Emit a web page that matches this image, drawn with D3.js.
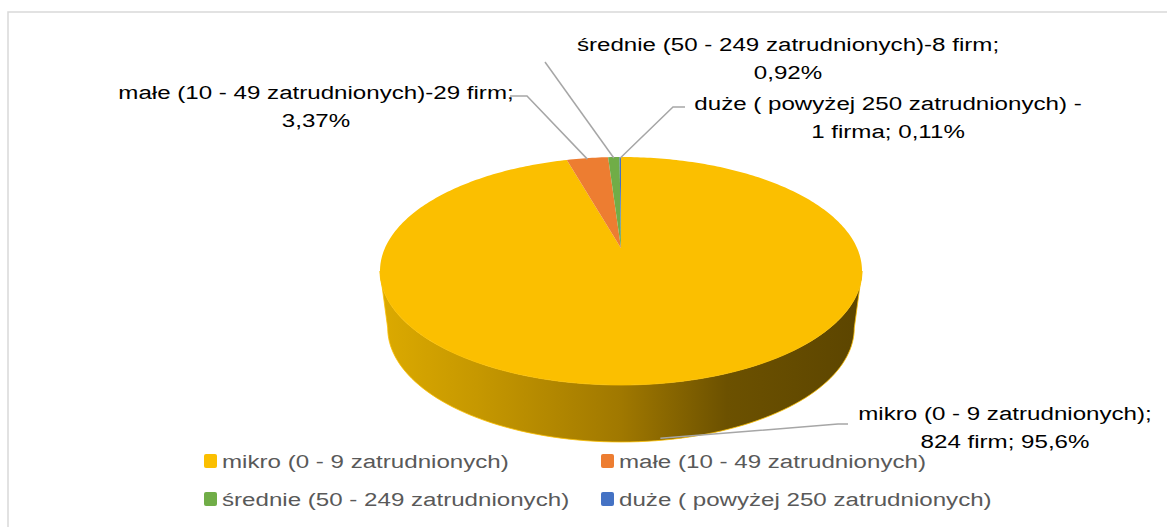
<!DOCTYPE html>
<html>
<head>
<meta charset="utf-8">
<script src="https://cdn.jsdelivr.net/npm/d3@7"></script>
<style>
  body { margin: 0; background: #fff; }
  svg { display: block; }
</style>
</head>
<body>
<svg width="1167" height="527"></svg>
<script>
let svg = d3.select("svg"),
    width = 1167,
    height = 527;

// data
let categories = ["mikro (0 - 9 zatrudnionych)", "małe (10 - 49 zatrudnionych)",
                  "średnie (50 - 249 zatrudnionych)", "duże ( powyżej 250 zatrudnionych)"];
let firms = [824, 29, 8, 1];
let labelText = [
  ["mikro (0 - 9 zatrudnionych);", "824 firm; 95,6%"],
  ["małe (10 - 49 zatrudnionych)-29 firm;", "3,37%"],
  ["średnie (50 - 249 zatrudnionych)-8 firm;", "0,92%"],
  ["duże ( powyżej 250 zatrudnionych) -", "1 firma; 0,11%"]
];
let colors = ["#FBBF00", "#ED7D31", "#70AD47", "#4472C4"];

// layout of the 3d pie (perspective projected circle)
let cx = 621, cy = 271, rx = 241, ry = 114, depth = 57, bottomScale = 0.968;
let persp = -0.2;                       // far side compressed
let A = rx * Math.sqrt(1 - persp * persp), D = ry * persp;
let stretch = 1.27, fontSize = 19;

// label boxes (center x, first baseline) and leader elbows
let labelPos = [
  {x: 1005, y: 420, elbow: [[838, 424], [848, 424]], bottom: true},
  {x: 316, y: 99, elbow: [[527, 96], [510, 96]]},
  {x: 788, y: 51, elbow: [[545, 62]]},
  {x: 888, y: 110, elbow: [[673, 107], [685, 107]]}
];

// angle clockwise from the back (top) of the pie -> screen point
function rim(a, dy = 0, s = 1) {
  let u = Math.sin(a), v = -Math.cos(a), w = 1 + persp * v;
  return [cx + s * A * u / w, cy + dy + (ry * v + D) / w];
}
let apex = [cx, cy + D];

let pie = d3.pie().sort(null).startAngle(0).endAngle(2 * Math.PI);
let arcs = pie(firms);

// border
svg.append("rect")
  .attr("x", 8).attr("y", 12)
  .attr("width", width).attr("height", height)
  .attr("fill", "none")
  .attr("stroke", "#d9d9d9")
  .attr("stroke-width", 1.5);

let defs = svg.append("defs");
let grad = defs.append("linearGradient")
  .attr("id", "side")
  .attr("gradientUnits", "userSpaceOnUse")
  .attr("x1", cx - rx).attr("x2", cx + rx)
  .attr("y1", 0).attr("y2", 0);
[[0, "#dcaa00"], [0.2, "#c69800"], [0.5, "#a07800"], [0.72, "#6c5100"], [1, "#5c4500"]]
  .forEach(s => grad.append("stop").attr("offset", s[0]).attr("stop-color", s[1]));

// side walls: only the part in front of the silhouette points
let sideFrom = Math.acos(persp), sideTo = 2 * Math.PI - Math.acos(persp);
function sidePath(d) {
  let a0 = Math.max(d.startAngle, sideFrom),
      a1 = Math.min(d.endAngle, sideTo);
  if (a1 <= a0) return null;
  let n = 90, pts = [];
  for (let i = 0; i <= n; i++) pts.push(rim(a0 + (a1 - a0) * i / n));
  for (let i = n; i >= 0; i--) pts.push(rim(a0 + (a1 - a0) * i / n, depth, bottomScale));
  return d3.line()(pts) + "Z";
}

svg.append("g").selectAll("path")
  .data(arcs.filter(d => sidePath(d)))
  .join("path")
    .attr("d", sidePath)
    .attr("fill", "url(#side)")
    .attr("stroke", "#fbbf00")
    .attr("stroke-width", 0.8);

// top faces
function topPath(d) {
  let n = Math.max(4, Math.ceil((d.endAngle - d.startAngle) * 60)), pts = [apex];
  for (let i = 0; i <= n; i++) pts.push(rim(d.startAngle + (d.endAngle - d.startAngle) * i / n));
  return d3.line()(pts) + "Z";
}

svg.append("g").selectAll("path")
  .data(arcs)
  .join("path")
    .attr("d", topPath)
    .attr("fill", (d, i) => colors[i]);

// leader lines
svg.append("g").selectAll("path")
  .data(arcs)
  .join("path")
    .attr("d", (d, i) => {
      let mid = (d.startAngle + d.endAngle) / 2;
      let p = labelPos[i].bottom ? rim(mid, depth - 2, bottomScale) : rim(mid, 1);
      return d3.line()([p].concat(labelPos[i].elbow));
    })
    .attr("fill", "none")
    .attr("stroke", "#a6a6a6")
    .attr("stroke-width", 1.5);

// data labels
let lab = svg.append("g").selectAll("text")
  .data(arcs)
  .join("text")
    .attr("transform", (d, i) => `translate(${labelPos[i].x},${labelPos[i].y}) scale(${stretch},1)`)
    .attr("text-anchor", "middle")
    .attr("font-family", "'Liberation Sans', Arial, sans-serif")
    .attr("font-size", fontSize)
    .attr("fill", "#000");
lab.selectAll("tspan")
  .data((d, i) => labelText[i])
  .join("tspan")
    .attr("x", 0)
    .attr("y", (t, j) => j * 28)
    .text(t => t);

// legend
let legendX = [204, 601], legendY = [461, 499];
let leg = svg.append("g").selectAll("g")
  .data(categories)
  .join("g")
    .attr("transform", (d, i) => `translate(${legendX[i % 2]},${legendY[Math.floor(i / 2)]})`);
leg.append("rect")
  .attr("x", 0).attr("y", -7)
  .attr("width", 13).attr("height", 14)
  .attr("rx", 2)
  .attr("fill", (d, i) => colors[i]);
leg.append("text")
  .attr("transform", `translate(18,7) scale(${stretch},1)`)
  .attr("font-family", "'Liberation Sans', Arial, sans-serif")
  .attr("font-size", fontSize)
  .attr("fill", "#595959")
  .text(d => d);
</script>
</body>
</html>
